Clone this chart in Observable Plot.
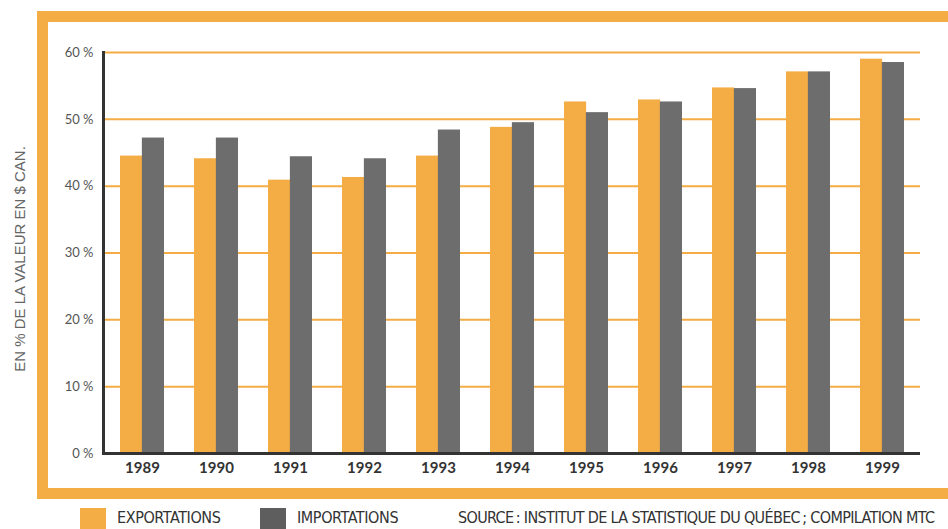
<!DOCTYPE html>
<html><head><meta charset="utf-8">
<script src="https://cdn.jsdelivr.net/npm/d3@7"></script>
<script src="https://cdn.jsdelivr.net/npm/@observablehq/plot@0.6"></script>
<style>
html,body{margin:0;padding:0;background:#fff;overflow:hidden;width:948px;height:529px;}
#wrap{position:relative;width:948px;height:529px;overflow:hidden;}
#frame{position:absolute;left:37px;top:11px;width:1000px;height:488px;border:11px solid #F4AD45;box-sizing:border-box;}
#chart{position:absolute;left:0;top:0;}
#legend{position:absolute;left:0;top:500px;width:948px;height:29px;font-family:"Liberation Sans Narrow","DejaVu Sans Condensed",sans-serif;color:#333;}
.sw{position:absolute;top:8px;width:26px;height:26px;}
.lt{position:absolute;top:10px;font-size:16px;letter-spacing:-0.4px;white-space:nowrap;line-height:16px;}
.lt.src{letter-spacing:-0.65px;}
</style>
</head><body>
<div id="wrap">
  <div id="frame"></div>
  <div id="chart"></div>
  <div id="legend"></div>
</div>
<script>
const years = [1989, 1990, 1991, 1992, 1993, 1994, 1995, 1996, 1997, 1998, 1999];
const exportations = [44.5, 44.1, 40.9, 41.3, 44.5, 48.8, 52.6, 52.9, 54.7, 57.1, 59.0];
const importations = [47.2, 47.2, 44.4, 44.1, 48.4, 49.5, 51.0, 52.6, 54.6, 57.1, 58.5];
const yTicks = [0, 10, 20, 30, 40, 50, 60];
const gridTicks = [10, 20, 30, 40, 50, 60];
const seriesNames = ["EXPORTATIONS", "IMPORTATIONS"];
const yLabel = "EN % DE LA VALEUR EN $ CAN.";
const sourceText = "SOURCE\u2009: INSTITUT DE LA STATISTIQUE DU QUÉBEC\u2009; COMPILATION MTC";

const ORANGE = "#F4AD45", GREY = "#6D6D6D", DARK = "#333333";
const W = 948, H = 500, mL = 103, mR = 28, mT = 52, mB = 47;
const padIn = 0.41, padOut = 0.217;

const dataExp = years.map((y, i) => ({year: y, value: exportations[i]}));
const dataImp = years.map((y, i) => ({year: y, value: importations[i]}));

const half = d3.scaleBand().domain(years).range([mL, W - mR]).paddingInner(padIn).paddingOuter(padOut).bandwidth() / 2;

const chart = Plot.plot({
  width: W, height: H,
  marginLeft: mL, marginRight: mR, marginTop: mT, marginBottom: mB,
  style: {fontFamily: "Lato, sans-serif", background: "transparent", overflow: "visible"},
  x: {type: "band", domain: years, paddingInner: padIn, paddingOuter: padOut, align: 0.5, label: null},
  y: {domain: [0, 60], label: null},
  marks: [
    Plot.ruleY(gridTicks, {stroke: ORANGE, strokeWidth: 2}),
    Plot.barY(dataExp, {x: "year", y: "value", fill: ORANGE, insetRight: half}),
    Plot.barY(dataImp, {x: "year", y: "value", fill: GREY, insetLeft: half}),
    Plot.ruleY([0], {stroke: DARK, strokeWidth: 3}),
    Plot.frame({anchor: "left", stroke: DARK, strokeWidth: 3}),
    Plot.axisY(yTicks, {tickSize: 0, tickPadding: 10, tickFormat: d => d + " %", fontSize: 13, fill: "#555", label: null}),
    Plot.axisX({tickSize: 0, tickPadding: 9, tickFormat: d => String(d), fontSize: 15, fontWeight: "bold", fill: DARK, label: null}),
    Plot.text([yLabel], {frameAnchor: "left", textAnchor: "middle", rotate: -90, dx: -83, dy: 6, fontSize: 15, fill: "#666", fontFamily: "Liberation Sans, sans-serif"})
  ]
});
document.getElementById("chart").appendChild(chart);

const legend = document.getElementById("legend");
const items = [
  {kind: "sw", left: 80, color: ORANGE},
  {kind: "lt", left: 117, text: seriesNames[0]},
  {kind: "sw", left: 260, color: "#5E5E5E"},
  {kind: "lt", left: 297, text: seriesNames[1]},
  {kind: "lt src", left: 458, text: sourceText}
];
for (const it of items) {
  const el = document.createElement("div");
  el.className = it.kind;
  el.style.left = it.left + "px";
  if (it.kind === "sw") el.style.background = it.color;
  else el.textContent = it.text;
  legend.appendChild(el);
}
</script>
</body></html>
